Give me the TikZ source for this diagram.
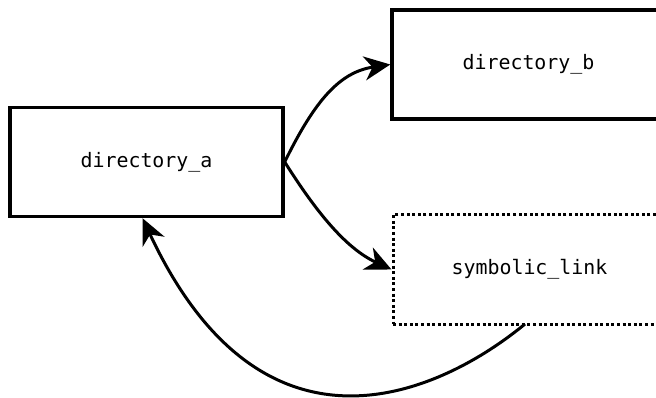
\documentclass[tikz,border=0pt]{standalone}
\usepackage{fontspec}
\setmonofont{DejaVu Sans Mono}
\usetikzlibrary{arrows.meta}
\begin{document}
\begin{tikzpicture}[x=1pt,y=-1pt,
  box/.style={draw=black, line width=3.4pt, fill=white, minimum width=273pt, minimum height=109pt, inner sep=0pt, font=\ttfamily\fontsize{19.9}{24}\selectfont},
  dotbox/.style={box, line width=3pt, dash pattern=on 3pt off 2.6pt},
  conn/.style={line width=3pt, -{Stealth[length=26pt,width=24pt,inset=8pt]}}]
\useasboundingbox (0,0) rectangle (656,398);
\clip (0,0) rectangle (656,398);
\node[box] (a) at (146.5,162) {directory\_a};
\node[box] (b) at (528.5,64.5) {directory\_b};
\node[dotbox] (s) at (529.5,269.5) {symbolic\_link};
\coordinate (s1) at (525,324);
\draw[conn] (a.east) .. controls (315,100) and (340,72) .. (b.west);
\draw[conn] (a.east) .. controls (315,210) and (345,248) .. (s.west);
\draw[conn] (s1) .. controls (445,390) and (265,480) .. ([xshift=-4pt]a.south);
\end{tikzpicture}
\end{document}
